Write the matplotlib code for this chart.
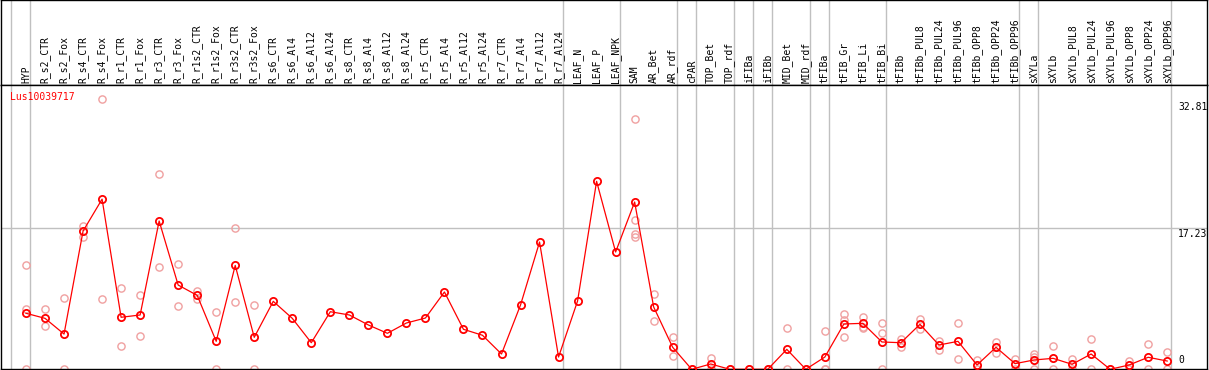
import matplotlib
matplotlib.use("Agg")
import matplotlib.pyplot as plt
from matplotlib.transforms import offset_copy

# ---------------- data ----------------
gene = "Lus10039717"

samples = ["HYP", "R_s2_CTR", "R_s2_Fox", "R_s4_CTR", "R_s4_Fox", "R_r1_CTR", "R_r1_Fox",
           "R_r3_CTR", "R_r3_Fox", "R_r1s2_CTR", "R_r1s2_Fox", "R_r3s2_CTR", "R_r3s2_Fox",
           "R_s6_CTR", "R_s6_Al4", "R_s6_Al12", "R_s6_Al24", "R_s8_CTR", "R_s8_Al4",
           "R_s8_Al12", "R_s8_Al24", "R_r5_CTR", "R_r5_Al4", "R_r5_Al12", "R_r5_Al24",
           "R_r7_CTR", "R_r7_Al4", "R_r7_Al12", "R_r7_Al24", "LEAF_N", "LEAF_P", "LEAF_NPK",
           "SAM", "AR_Bet", "AR_rdf", "cPAR", "TOP_Bet", "TOP_rdf", "iFIBa", "iFIBb",
           "MID_Bet", "MID_rdf", "tFIBa", "tFIB_Gr", "tFIB_Li", "tFIB_Bi", "tFIBb",
           "tFIBb_PUL8", "tFIBb_PUL24", "tFIBb_PUL96", "tFIBb_OPP8", "tFIBb_OPP24",
           "tFIBb_OPP96", "sXYLa", "sXYLb", "sXYLb_PUL8", "sXYLb_PUL24", "sXYLb_PUL96",
           "sXYLb_OPP8", "sXYLb_OPP24", "sXYLb_OPP96"]

means = [6.85, 6.23, 4.31, 16.9, 20.8, 6.36, 6.64, 18.13, 10.3, 9.04, 3.42, 12.7, 3.91,
         8.31, 6.23, 3.25, 7.04, 6.64, 5.42, 4.40, 5.66, 6.27, 9.45, 4.89, 4.16, 1.87,
         7.86, 15.56, 1.50, 8.35, 22.98, 14.34, 20.45, 7.62, 2.69, 0.0, 0.65, 0.0, 0.0,
         0.0, 2.44, 0.0, 1.50, 5.54, 5.62, 3.34, 3.25, 5.50, 2.97, 3.42, 0.53, 2.69,
         0.69, 1.14, 1.34, 0.61, 1.87, 0.0, 0.53, 1.47, 1.01]

replicates = [
    [12.7, 7.37, 0.0], [7.37, 5.25], [8.68, 0.0], [17.56, 16.14], [33.1, 8.6],
    [9.94, 2.81], [9.08, 4.07], [23.84, 12.47], [12.84, 7.70], [9.61, 8.63],
    [6.97, 0.0], [17.24, 8.19], [7.86, 0.0],
    [], [], [], [], [], [], [], [], [], [], [], [], [], [], [], [],
    [], [], [],
    [30.56, 18.25, 16.5, 16.2], [9.24, 5.87], [3.91, 1.59], [0.0], [1.34, 0.0],
    [0.0], [0.0], [0.0], [5.01, 0.0], [0.0], [4.65, 0.0, 0.0],
    [6.72, 3.91, 6.0], [6.36, 5.13, 5.01], [5.66, 4.40, 0.0], [3.70, 2.76],
    [6.11, 4.89], [3.46, 2.36], [5.66, 1.22], [1.14, 0.0], [3.37, 2.03], [1.26, 0.0],
    [1.83, 1.55, 0.0], [2.81, 0.0], [1.26, 0.0], [3.67, 0.0], [0.0], [1.01, 0.0],
    [3.09, 0.0], [2.11, 0.0],
]

# index of the first sample of each group (grey separators drawn before them)
group_starts = [0, 1, 29, 32, 35, 36, 38, 39, 40, 42, 43, 46, 53, 54, 61]
ytick_values = [32.81, 17.23, 0]
ytick_labels = ["32.81", "17.23", "0"]

# ---------------- figure ----------------
W, H = 1209, 370
fig = plt.figure(figsize=(W / 100, H / 100), dpi=100)
mono = "DejaVu Sans Mono"

step = 19.02
x0px = 26.0
left_px, right_px = 1.0, 1207.0
xmin = -(x0px - left_px) / step
xmax = xmin + (right_px - left_px) / step

header_h = 85
plot_bottom = 369.3
ax_h = fig.add_axes([left_px / W, (H - header_h) / H, (right_px - left_px) / W, header_h / H])
ax = fig.add_axes([left_px / W, (H - plot_bottom) / H, (right_px - left_px) / W,
                   (plot_bottom - header_h) / H])

px_per_unit = 8.18
ymax = (plot_bottom - header_h) / px_per_unit

grey = "#c0c0c0"
for a in (ax_h, ax):
    a.set_xlim(xmin, xmax)
    a.set_xticks([])
    a.set_yticks([])
    for s in a.spines.values():
        s.set_color("black")
        s.set_linewidth(1.0)
    for g in group_starts:
        a.axvline(g - 15 / step, color=grey, lw=1.0, zorder=0)

ax_h.set_ylim(0, 1)
for i, name in enumerate(samples):
    ax_h.text(i, 2 / header_h, name, rotation=90, ha="center", va="bottom",
              fontsize=7, family=mono, color="black")

ax.set_ylim(0, ymax)
ax.axhline(17.23, color=grey, lw=1.0, zorder=0)

# replicate points
for i, reps in enumerate(replicates):
    if reps:
        ax.plot([i] * len(reps), reps, linestyle="none", marker="o", ms=5.2,
                mfc="none", mec="#f0a0a0", mew=1.0, zorder=2)

# mean line
xs = list(range(len(samples)))
ax.plot(xs, means, color="#ff0000", lw=0.9, marker="o", ms=5.2, mfc="none",
        mec="#ff0000", mew=1.3, zorder=3)

# title
ax.text((10 - left_px) / (right_px - left_px), 1 - 7 / (plot_bottom - header_h), gene,
        transform=ax.transAxes, ha="left", va="top", fontsize=7, family=mono,
        color="#ff0000")

# y labels on the right
tx = (1178 - left_px) / (right_px - left_px)
ytrans = ax.get_yaxis_transform()
for v, lab in zip(ytick_values, ytick_labels):
    if v == 0:
        ax.text(tx, v, lab, transform=offset_copy(ytrans, fig=fig, x=0, y=4, units="dots"),
                ha="left", va="bottom", fontsize=7, family=mono, color="black")
    else:
        ax.text(tx, v, lab, transform=offset_copy(ytrans, fig=fig, x=0, y=-1, units="dots"),
                ha="left", va="top", fontsize=7, family=mono, color="black")

fig.savefig("out.png", dpi=100)
